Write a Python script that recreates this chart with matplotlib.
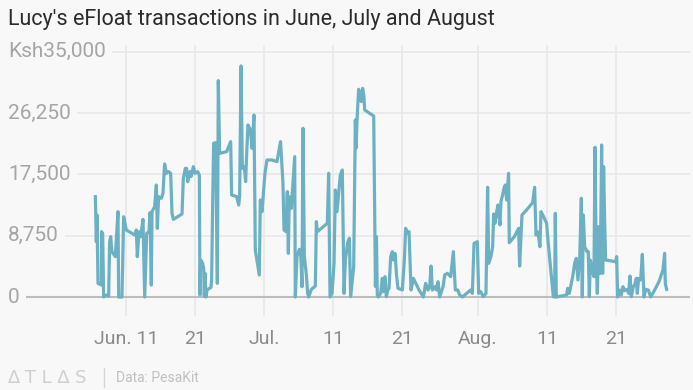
import matplotlib
matplotlib.use("Agg")
import matplotlib.pyplot as plt
import matplotlib.transforms as mtransforms
import pandas as pd

# days since 1 June, and eFloat balance (Ksh)
days = [
    5.56, 5.70, 5.80, 5.94, 6.43, 6.45, 6.62, 6.76, 7.15, 7.49, 7.63, 7.78, 7.97, 8.45, 8.84, 8.94,
    9.42, 9.66, 10.05, 11.26, 11.50, 11.64, 11.88, 12.13, 12.46, 12.71, 13.00, 13.33, 13.48, 13.67,
    13.77, 14.15, 14.40, 14.54, 14.73, 15.12, 15.36, 15.60, 15.85, 16.18, 16.47, 16.67, 16.86, 18.12,
    18.31, 18.60, 18.79, 18.94, 19.27, 19.42, 19.76, 20.00, 20.39, 20.63, 20.72, 20.82, 21.11, 21.26,
    21.35, 21.45, 21.59, 21.74, 22.32, 22.41, 22.56, 22.70, 22.99, 23.24, 23.38, 23.57, 24.59, 25.17,
    25.31, 26.04, 26.33, 26.47, 26.67, 26.86, 27.15, 27.34, 27.49, 27.68, 28.02, 28.26, 28.55, 28.74,
    29.32, 29.47, 29.71, 30.14, 30.43, 31.21, 31.88, 32.40, 32.75, 32.90, 33.19, 33.38, 33.53, 33.67,
    33.96, 34.45, 34.54, 34.78, 35.12, 35.31, 35.51, 35.65, 35.85, 36.14, 36.33, 36.47, 36.86, 37.44,
    37.59, 37.73, 39.18, 39.37, 39.57, 39.86, 40.15, 40.34, 40.58, 41.06, 41.35, 41.60, 41.79, 42.13,
    42.37, 42.56, 43.00, 43.24, 43.33, 43.53, 43.72, 43.96, 44.11, 44.30, 44.49, 44.59, 45.90, 46.15,
    46.30, 46.42, 46.55, 46.91, 47.15, 47.35, 47.54, 47.73, 47.93, 48.12, 48.36, 48.60, 48.75, 48.99,
    49.23, 49.42, 50.05, 50.34, 50.53, 50.78, 51.02, 51.31, 51.65, 52.47, 53.10, 53.43, 53.77, 54.01,
    54.21, 54.40, 54.79, 54.98, 55.22, 55.46, 55.95, 56.19, 56.57, 57.06, 57.44, 57.73, 58.07, 58.36,
    58.75, 59.95, 60.20, 60.44, 60.92, 61.11, 61.40, 61.78, 62.17, 62.41, 62.56, 62.89, 63.14, 63.28,
    63.47, 63.72, 63.91, 64.20, 64.34, 64.58, 64.78, 64.97, 65.16, 65.45, 65.55, 66.28, 66.90, 67.05,
    67.24, 67.39, 68.06, 68.93, 69.22, 69.42, 69.61, 69.80, 69.99, 70.14, 70.53, 70.96, 71.15, 71.93,
    72.12, 72.22, 72.36, 73.86, 74.00, 74.25, 74.78, 75.02, 75.26, 75.50, 75.75, 75.99, 76.13, 76.28,
    76.47, 76.81, 77.00, 77.15, 77.29, 77.49, 77.68, 77.82, 77.97, 78.16, 78.31, 78.55, 78.74, 78.93,
    79.08, 79.22, 79.37, 79.51, 80.96, 81.11, 81.25, 81.54, 81.78, 82.03, 82.27, 82.61, 82.85, 83.04,
    83.23, 83.52, 83.77, 83.96, 84.10, 84.30, 84.59, 84.83, 85.07, 85.31, 85.70, 86.04, 86.62, 87.24,
    87.82, 88.06, 88.16, 88.35,
]
amounts = [
    14320, 7900, 11700, 1950, 1710, 9320, 9090, 0, 290, 140, 7900, 8610, 6470, 5760, 12180, 0,
    0, 11460, 9560, 8850, 9560, 5760, 9320, 8610, 11080, 0, 9090, 9320, 12030, 1710,
    12180, 12890, 15980, 9800, 14320, 14080, 14790, 18980, 17650, 17890, 17650, 11940, 11080, 11840,
    16930, 18360, 18360, 16460, 17890, 17170, 18600, 17650, 17890, 17410, 290, 5280, 4800, 4090,
    140, 3380, 0, 1000, 1380, 2430, 13130, 21930, 22020, 1950, 30870, 20500, 20740, 22170,
    14560, 14320, 13130, 14320, 32970, 18360, 18600, 16460, 20500, 24550, 23830, 21220, 25970, 6710,
    3140, 13840, 12180, 17650, 19550, 19550, 19310, 22170, 16220, 9560, 9320, 15030, 6230, 14320,
    12650, 20030, 0, 5760, 6800, 6470, 1470, 24070, 5760, 3140, 520, 0, 1090, 1570,
    10750, 9320, 10510, 17650, 0, 520, 4800, 15270, 12180, 17410, 18120, 520, 5280, 7750,
    8370, 50, 4330, 25260, 21220, 26210, 29640, 28830, 27880, 29780, 28590, 26690, 25830, 1500,
    8600, 300, 0, 520, 2660, 760, 2900, 50, 1000, 1240, 5760, 6470, 5280, 6230,
    2900, 1240, 1000, 5280, 9800, 9090, 9320, 1000, 2660, 1000, 0, 1950, 1000, 1470,
    4420, 1000, 1470, 1000, 2190, 0, 1470, 3140, 3380, 2900, 6470, 1000, 1000, 290,
    0, 1000, 520, 7660, 7900, 520, 760, 50, 520, 15650, 4800, 5760, 7180, 11840,
    10510, 12180, 13130, 10280, 13600, 14560, 15510, 15980, 13840, 17650, 7750, 8610, 9800, 4420,
    8370, 11700, 12420, 13460, 15650, 8850, 9320, 8610, 7180, 12180, 11460, 10510, 8130, 50,
    0, 11940, 0, 290, 1240, 520, 3140, 4800, 5520, 2430, 5280, 14080, 0, 11700,
    7180, 6470, 6470, 50, 5280, 3380, 4800, 2900, 21360, 4800, 520, 10040, 3380, 21690,
    3380, 18600, 10990, 5280, 5040, 5760, 0, 1000, 290, 1470, 900, 1090, 520, 3000,
    50, 1470, 1860, 2660, 520, 2660, 2430, 6090, 0, 1090, 1000, 0, 1000, 2190,
    3850, 6230, 1950, 1090,
]

yticks = [0, 8750, 17500, 26250, 35000]
ytick_labels = ["0", "8,750", "17,500", "26,250", "Ksh35,000"]
xtick_dates = ["2017-06-11", "2017-06-21", "2017-07-01", "2017-07-11",
               "2017-07-21", "2017-08-01", "2017-08-11", "2017-08-21"]
xtick_labels = ["Jun. 11", "21", "Jul.", "11", "21", "Aug.", "11", "21"]

start = pd.Timestamp("2017-06-01")
dates = start + pd.to_timedelta(days, unit="D")

bg = "#f8f8f8"
line_color = "#6cb1c3"
plt.rcParams["font.family"] = ["Roboto", "DejaVu Sans"]

fig = plt.figure(figsize=(6.93, 3.9), dpi=100, facecolor=bg)
W, H = 693, 390
# axes spans pixels x 8..690, y 44.7..316 (from top)
ax = fig.add_axes([8 / W, (H - 316) / H, (690 - 8) / W, (316 - 44.7) / H])
ax.set_facecolor(bg)

ax.plot(dates, amounts, color=line_color, lw=2.3, solid_joinstyle="round", zorder=3)

ax.set_ylim(-2710, 36000)
ax.set_xlim(start + pd.Timedelta(days=-7.10), start + pd.Timedelta(days=91.74))

# horizontal grid, zero line darker
for v in yticks:
    if v == 0:
        ax.axhline(v, color="#bdbdbd", lw=1.5, zorder=2)
    else:
        ax.axhline(v, color="#e9e9e9", lw=1.3, zorder=1)

ax.set_yticks([])
ax.set_xticks(pd.to_datetime(xtick_dates))
ax.set_xticklabels(xtick_labels)
ax.tick_params(axis="x", length=0, pad=10, labelsize=14, labelcolor="#8a8a8a")
ax.grid(axis="x", color="#e9e9e9", lw=1.3, zorder=1)
for s in ax.spines.values():
    s.set_visible(False)

trans = mtransforms.blended_transform_factory(ax.transAxes, ax.transData)
for v, lab in zip(yticks, ytick_labels):
    ax.text(0, v, lab, transform=trans, ha="left", va="center", fontsize=15,
            color="#a5a5a5", zorder=4,
            bbox=dict(facecolor=bg, edgecolor="none", boxstyle="square,pad=0.3"))

fig.text(8 / W, 1 - 19 / H, "Lucy's eFloat transactions in June, July and August",
         fontsize=15.5, color="#2b2b2b", ha="left", va="center")

# footer
fig.text(7 / W, 1 - 378 / H, "\u2206 T L \u2206 S", fontsize=13, color="#cfcfcf",
         ha="left", va="center", family=["DejaVu Sans"])
fig.add_artist(plt.Line2D([104 / W, 104 / W], [1 - 368 / H, 1 - 387 / H],
                          color="#d5d5d5", lw=1))
fig.text(116 / W, 1 - 378 / H, "Data: PesaKit", fontsize=10, color="#c0c0c0",
         ha="left", va="center")

fig.savefig("out.png", dpi=100, facecolor=bg)
